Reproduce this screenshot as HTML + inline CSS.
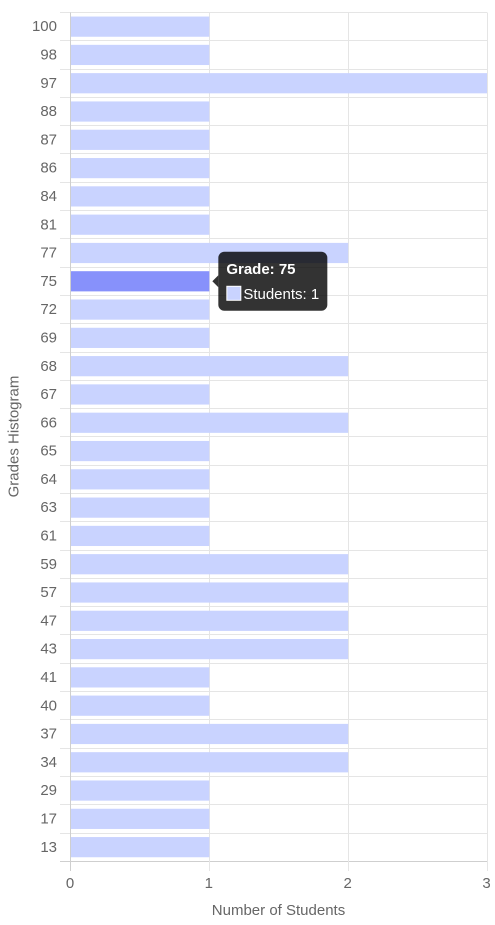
<!DOCTYPE html>
<html>
<head>
<meta charset="utf-8">
<style>
html,body{margin:0;padding:0;background:#fff;width:495px;height:925px;overflow:hidden}
svg{display:block;font-family:"Liberation Sans",Arial,sans-serif}
</style>
</head>
<body>
<svg id="chart" width="495" height="925" viewBox="0 0 495 925" xmlns="http://www.w3.org/2000/svg"></svg>
<script>
const grades = [100,98,97,88,87,86,84,81,77,75,72,69,68,67,66,65,64,63,61,59,57,47,43,41,40,37,34,29,17,13];
const students = [1,1,3,1,1,1,1,1,2,1,1,1,2,1,2,1,1,1,1,2,2,2,2,1,1,2,2,1,1,1];
const xTicks = [0,1,2,3];
const hoveredGrade = 75;
const xAxisTitle = "Number of Students";
const yAxisTitle = "Grades Histogram";

const svg = document.getElementById('chart');
const NS = 'http://www.w3.org/2000/svg';
const plot = {left:70.5, right:487, top:12.5, bottom:861.3};
const xMax = xTicks[xTicks.length-1];
function xScale(v){ return plot.left + (plot.right-plot.left)*v/xMax; }
function bandH(){ return (plot.bottom-plot.top)/grades.length; }
function yEdge(i){ return plot.top + bandH()*i; }
function yCenter(i){ return yEdge(i) + bandH()/2; }
function el(tag, attrs, text){
  const e = document.createElementNS(NS, tag);
  for (const k in attrs) e.setAttribute(k, attrs[k]);
  if (text !== undefined) e.textContent = text;
  return e;
}
const gridG = el('g', {});


svg.appendChild(gridG);
for (let i = 0; i <= grades.length; i++) {
  const y = Math.floor(yEdge(i)) + 0.5;
  const line = el('line', {x1:60, x2:plot.right, y1:y, y2:y, stroke: i === grades.length ? '#cfcfcf' : '#e5e5e5', 'stroke-width':1});
  
  
  gridG.appendChild(line);
}
xTicks.forEach(function(t){
  const x = Math.floor(xScale(t)) + 0.5;
  const line = el('line', {x1:x, x2:x, y1:plot.top, y2:871, stroke: t === 0 ? '#cfcfcf' : '#e5e5e5', 'stroke-width':1});
  
  
  gridG.appendChild(line);
});
const barsG = el('g', {});


svg.appendChild(barsG);
const barH = 20.2;
students.forEach(function(v, i){
  const bar = el('rect', {
    x: xScale(0)+0.5, y: yCenter(i)-barH/2,
    width: Math.max(0, xScale(v)-xScale(0)-0.5), height: barH,
    fill: grades[i] === hoveredGrade ? '#8791fb' : '#c9d3ff'
  });
  
  
  barsG.appendChild(bar);
});
grades.forEach(function(g, i){
  const label = el('text', {x:57, y:yCenter(i)+4.6, 'text-anchor':'end', 'font-size':15, fill:'#666'}, String(g));
  
  
  svg.appendChild(label);
});
xTicks.forEach(function(t){
  const label = el('text', {x:xScale(t)-0.5, y:888, 'text-anchor':'middle', 'font-size':15, fill:'#666'}, String(t));
  
  
  svg.appendChild(label);
});
const xTitle = el('text', {x:278.5, y:915, 'text-anchor':'middle', 'font-size':15, fill:'#666'}, xAxisTitle);


svg.appendChild(xTitle);
const yTitle = el('text', {x:0, y:0, transform:'translate(18.5,436.5) rotate(-90)', 'text-anchor':'middle', 'font-size':15, fill:'#666'}, yAxisTitle);


svg.appendChild(yTitle);

// Tooltip anchored to the hovered bar
const hi = grades.indexOf(hoveredGrade);
const tipX = xScale(students[hi]) + 9;
const tipCy = yCenter(hi);
const tipTop = tipCy - 29.5;
const tip = el('g', {});


svg.appendChild(tip);
const tipBox = el('rect', {x:tipX, y:tipTop, width:109, height:59, rx:6, ry:6, fill:'rgba(0,0,0,0.8)'});


tip.appendChild(tipBox);
const caret = el('path', {d:'M'+tipX+' '+(tipCy-6)+' L'+(tipX-6)+' '+tipCy+' L'+tipX+' '+(tipCy+6)+' Z', fill:'rgba(0,0,0,0.8)'});


tip.appendChild(caret);
const tipTitle = el('text', {x:tipX+8, y:tipTop+22, 'font-size':15, 'font-weight':'bold', fill:'#fff'}, 'Grade: ' + hoveredGrade);


tip.appendChild(tipTitle);
const swatch = el('rect', {x:tipX+8.5, y:tipTop+34.5, width:14, height:14, fill:'#c9d3ff', stroke:'#fff', 'stroke-width':1});


tip.appendChild(swatch);
const tipBody = el('text', {x:tipX+25, y:tipTop+47, 'font-size':15, fill:'#fff'}, 'Students: ' + students[hi]);


tip.appendChild(tipBody);
</script>
</body>
</html>
